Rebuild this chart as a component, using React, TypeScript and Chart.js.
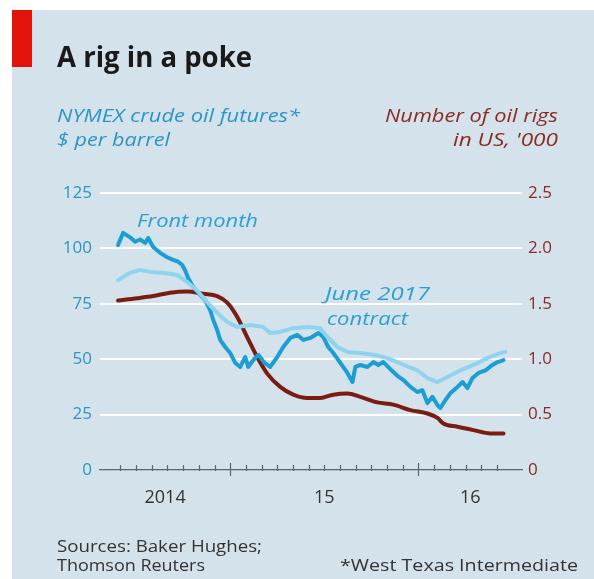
import React, { useEffect, useRef } from 'react';
import { Chart, registerables } from 'chart.js';
Chart.register(...registerables);

// x values: months since 1 Jan 2014 (12 = Jan 2015, 24 = Jan 2016)
const frontX = [4.85,5.17,5.62,5.94,6.26,6.58,6.77,7.09,7.53,7.98,8.36,8.68,8.94,9.13,9.32,9.64,9.96,10.40,10.72,10.92,11.17,11.36,11.68,12.0,12.32,12.64,12.96,13.15,13.47,13.79,14.17,14.55,15.0,15.38,15.83,16.28,16.66,17.11,17.62,17.94,18.25,18.57,19.02,19.47,19.79,19.98,20.30,20.74,21.13,21.44,21.76,22.21,22.66,23.04,23.49,23.93,24.25,24.57,24.89,25.21,25.40,25.72,26.04,26.49,26.81,27.12,27.44,27.83,28.27,28.72,29.04,29.42];
const frontMonth = [101.5,107,105,103,104,102.5,104.7,100.6,98,96,94.8,94,92.5,90,86.6,82.6,80,76.7,72.2,67.7,63.2,58.7,55.5,52.8,48.3,46.5,51,46.5,49.6,52,48.5,46.5,51,55.5,59.6,61,58.7,59.6,61.8,60,55.5,52.8,48.3,43.8,39.7,46.5,47.4,46.5,48.7,47.4,48.7,45.5,42.5,40.6,37.5,35.2,36,30.2,33,29.3,28,31.6,34.7,37.5,39.7,37,41.5,43.8,45,47.4,48.7,49.6];

const june2017X = [4.85,5.62,6.26,6.89,7.72,8.62,9.26,9.89,10.53,11.17,11.81,12.45,13.28,14.11,14.55,15.19,16.02,16.91,17.74,18.19,18.83,19.47,20.30,21.13,22.02,22.66,23.04,23.93,24.57,25.21,25.85,26.68,27.5,28.40,29.23,29.55];
const june2017 = [85.7,89,90.3,89.4,89,88,84.8,81,75.8,70.9,66.8,64.5,65.4,64.5,61.8,62.3,64,64.5,64,60,55.5,53.3,52.8,52,50.5,48.7,47.5,45,41.5,39.7,42,45,47.4,50.5,52.8,53.3];

const rigsX = [4.85,6.06,7.09,8.17,9.26,10.28,11.17,11.81,12.45,13.08,13.72,14.36,15.19,16.02,16.91,17.74,18.57,19.47,20.30,21.38,22.40,23.49,24.57,25.21,25.59,26.49,27.5,28.59,29.42];
const rigs = [1.53,1.55,1.57,1.60,1.61,1.59,1.57,1.51,1.38,1.20,1.02,0.87,0.75,0.68,0.65,0.65,0.68,0.69,0.66,0.61,0.59,0.54,0.51,0.47,0.42,0.39,0.36,0.33,0.33];

const X_MIN = 3.7;
const X_MAX = 30.6;
const yearStarts = [12, 24];
const yearLabels = ['2014', '15', '16'];
const monthTicks = [5,6,7,8,9,10,11,12,13,14,15,16,17,18,19,20,21,22,23,24,25,26,27,28,29];

const W = 594, H = 579;
const FONT = '"Open Sans", sans-serif';
const PANEL = '#d4e2eb';
const CYAN_TXT = '#2b96c4';
const RED_TXT = '#8a2b22';
const AXIS = '#5b666c';

function fitText(ctx: CanvasRenderingContext2D, text: string, x: number, y: number, font: string, color: string, width: number | null, align: CanvasTextAlign = 'left') {
  ctx.save();
  ctx.font = font;
  ctx.fillStyle = color;
  ctx.textBaseline = 'alphabetic';
  ctx.textAlign = align;
  const w = ctx.measureText(text).width;
  const s = width ? width / w : 1;
  ctx.translate(x, y);
  ctx.scale(s, 1);
  ctx.fillText(text, 0, 0);
  ctx.restore();
}

const decor = {
  id: 'decor',
  beforeDraw(chart: any) {
    const ctx = chart.ctx;
    ctx.save();
    ctx.fillStyle = '#ffffff';
    ctx.fillRect(0, 0, W, H);
    ctx.fillStyle = PANEL;
    ctx.fillRect(12, 10, W - 12, H - 10);
    ctx.fillStyle = '#e3120b';
    ctx.fillRect(12, 10, 20, 57);
    ctx.restore();
    fitText(ctx, 'A rig in a poke', 57, 67, `bold 28px ${FONT}`, '#1a1a1a', 195);
    fitText(ctx, 'NYMEX crude oil futures*', 57, 122, `italic 19px ${FONT}`, CYAN_TXT, 243);
    fitText(ctx, '$ per barrel', 57, 146, `italic 19px ${FONT}`, CYAN_TXT, 113);
    fitText(ctx, 'Number of oil rigs', 558, 122, `italic 19px ${FONT}`, RED_TXT, 173, 'right');
    fitText(ctx, "in US, '000", 558, 146, `italic 19px ${FONT}`, RED_TXT, 105, 'right');
    fitText(ctx, 'Sources: Baker Hughes;', 57, 552, `16px ${FONT}`, '#333333', 205);
    fitText(ctx, 'Thomson Reuters', 57, 571, `16px ${FONT}`, '#333333', 148);
    fitText(ctx, '*West Texas Intermediate', 578, 571, `16px ${FONT}`, '#333333', 238, 'right');
  },
  afterDraw(chart: any) {
    const ctx = chart.ctx;
    const xs = chart.scales.x;
    const bottom = chart.chartArea.bottom;
    ctx.save();
    ctx.strokeStyle = AXIS;
    ctx.lineWidth = 1.2;
    monthTicks.forEach((m) => {
      const px = Math.round(xs.getPixelForValue(m)) + 0.5;
      const major = yearStarts.includes(m);
      ctx.beginPath();
      ctx.moveTo(px, bottom - (major ? 7 : 5));
      ctx.lineTo(px, bottom + (major ? 6 : 1));
      ctx.stroke();
    });
    ctx.restore();
    fitText(ctx, 'Front month', 137, 227, `italic 19px ${FONT}`, '#2aa0d4', 121);
    fitText(ctx, 'June 2017', 325, 300, `italic 19px ${FONT}`, '#2aa0d4', 105);
    fitText(ctx, 'contract', 327, 325, `italic 19px ${FONT}`, '#2aa0d4', 81);
  },
};

const toPts = (xs: number[], ys: number[]) => xs.map((x, i) => ({ x, y: ys[i] }));

export default function App() {
  const ref = useRef<HTMLCanvasElement>(null);
  useEffect(() => {
    const canvas = ref.current!;
    const bounds = [X_MIN, ...yearStarts, X_MAX];
    const labelPos = yearLabels.map((_, i) => (bounds[i] + bounds[i + 1]) / 2);
    const chart = new Chart(canvas, {
      type: 'line',
      data: {
        datasets: [
          { label: 'June 2017 contract', data: toPts(june2017X, june2017), yAxisID: 'y', borderColor: '#8fd4ef', borderWidth: 4, pointRadius: 0, tension: 0, borderJoinStyle: 'round', borderCapStyle: 'round' },
          { label: 'Front month', data: toPts(frontX, frontMonth), yAxisID: 'y', borderColor: '#1b9ed4', borderWidth: 4, pointRadius: 0, tension: 0, borderJoinStyle: 'round', borderCapStyle: 'round' },
          { label: 'Oil rigs', data: toPts(rigsX, rigs), yAxisID: 'y1', borderColor: '#7a1c12', borderWidth: 4, pointRadius: 0, cubicInterpolationMode: 'monotone', borderCapStyle: 'round' },
        ],
      },
      options: {
        responsive: false,
        animation: false,
        layout: { padding: { top: 193, left: 0, right: 0, bottom: 0 } },
        plugins: { legend: { display: false }, tooltip: { enabled: false } },
        scales: {
          x: {
            type: 'linear',
            min: X_MIN,
            max: X_MAX,
            grid: { display: false, drawTicks: false },
            border: { display: true, color: AXIS, width: 1.2 },
            afterBuildTicks: (s: any) => { s.ticks = labelPos.map((v) => ({ value: v })); },
            ticks: {
              autoSkip: false,
              maxRotation: 0,
              padding: 17,
              color: '#333333',
              font: { family: FONT, size: 18 },
              callback: (_v: any, i: number) => yearLabels[i],
            },
            afterFit: (s: any) => { s.height = 109; },
          },
          y: {
            position: 'left',
            min: 0,
            max: 125,
            grid: { color: (c: any) => (c.tick && c.tick.value === 0 ? 'rgba(0,0,0,0)' : '#ffffff'), lineWidth: 2, drawTicks: false },
            border: { display: false },
            ticks: { stepSize: 25, padding: 8, color: CYAN_TXT, font: { family: FONT, size: 17 } },
            afterFit: (s: any) => { s.width = 100; },
          },
          y1: {
            position: 'right',
            min: 0,
            max: 2.5,
            grid: { display: false, drawTicks: false },
            border: { display: false },
            ticks: { stepSize: 0.5, padding: 6, color: RED_TXT, font: { family: FONT, size: 17 }, callback: (v: any) => (v === 0 ? '0' : Number(v).toFixed(1)) },
            afterFit: (s: any) => { s.width = 72; },
          },
        },
      },
      plugins: [decor],
    } as any);
    return () => chart.destroy();
  }, []);
  return (
    <div style={{ position: 'fixed', left: 0, top: 0, width: W, height: H }}>
      <canvas ref={ref} width={W} height={H} style={{ display: 'block' }} />
    </div>
  );
}
